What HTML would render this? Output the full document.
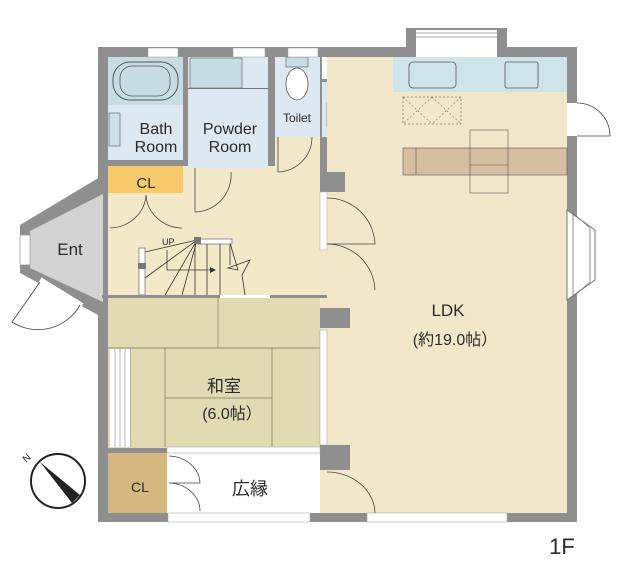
<!DOCTYPE html>
<html><head><meta charset="utf-8"><style>
html,body{margin:0;padding:0;background:#fff;}
svg{display:block;}
text{font-family:"Liberation Sans","Noto Sans CJK JP",sans-serif;fill:#2a2a2a;}
</style></head><body>
<svg width="627" height="570" viewBox="0 0 627 570" xmlns="http://www.w3.org/2000/svg">
<rect width="627" height="570" fill="#fff"/>
<rect x="98" y="47" width="479" height="475" fill="#8f8f8f"/>
<polygon points="100,177 20,225 20,273 100,316" fill="#8f8f8f"/>
<polygon points="103,194 30,231 30,268 103,302" fill="#d3d3d3"/>
<rect x="20" y="235" width="10" height="30" fill="#fff" stroke="#888" stroke-width="0.6"/>
<line x1="40" y1="280" x2="82" y2="306" stroke="#fff" stroke-width="6"/>
<path d="M40,282 L12,322 A48,48 0 0 0 80,305" fill="#fff" stroke="#444" stroke-width="0.8"/>
<rect x="108" y="166" width="212" height="132" fill="#f3e8c8"/>
<rect x="275" y="137" width="45" height="35" fill="#f3e8c8"/>
<rect x="183" y="168" width="92" height="10" fill="#f3e8c8"/>
<rect x="108" y="57" width="75" height="103" fill="#dde9f2"/>
<rect x="108" y="57" width="75" height="48" fill="#c8dde3"/>
<rect x="113" y="62" width="65" height="38" rx="17" fill="none" stroke="#555" stroke-width="1"/>
<rect x="120" y="66" width="50" height="30" rx="12" fill="none" stroke="#555" stroke-width="0.8"/>
<rect x="109" y="113" width="11" height="33" fill="#cfe0e8" stroke="#555" stroke-width="0.6"/>
<rect x="188" y="57" width="80" height="111" fill="#dde9f2"/>
<rect x="190" y="58" width="52" height="30" fill="#c8dde3" stroke="#555" stroke-width="0.6"/>
<rect x="188" y="88" width="80" height="1" fill="#777"/>
<rect x="275" y="57" width="45" height="80" fill="#dde9f2"/>
<rect x="286" y="57" width="22" height="10" fill="#c8dde3" stroke="#555" stroke-width="0.6"/>
<ellipse cx="297" cy="84" rx="11" ry="16" fill="#fff" stroke="#555" stroke-width="0.8"/>
<rect x="322" y="57" width="23" height="22" fill="#fff"/>
<rect x="322" y="82" width="23" height="58" fill="#dde9f2"/>
<rect x="327" y="103" width="14" height="24" fill="#c8dde3" stroke="#555" stroke-width="0.6"/>
<rect x="108" y="166" width="75" height="27" fill="#f6c96a"/>
<rect x="327" y="57" width="240" height="456" fill="#f2e8c9"/>
<rect x="320" y="190" width="7" height="323" fill="#f2e8c9"/>
<rect x="320" y="137" width="7" height="55" fill="#8f8f8f"/>
<rect x="320" y="172" width="25" height="20" fill="#8f8f8f"/>
<rect x="320" y="192" width="7" height="58" fill="#fff" stroke="#aaa" stroke-width="0.5"/>
<rect x="320" y="308" width="30" height="20" fill="#8f8f8f"/>
<rect x="320" y="445" width="30" height="25" fill="#8f8f8f"/>
<rect x="393" y="57" width="174" height="35" fill="#cfe3ea"/>
<rect x="409" y="62" width="47" height="26" rx="4" fill="none" stroke="#555" stroke-width="0.8"/>
<rect x="505" y="62" width="33" height="26" rx="2" fill="none" stroke="#555" stroke-width="0.8"/>
<rect x="403" y="97" width="58" height="27" fill="none" stroke="#777" stroke-width="0.8" stroke-dasharray="2,2"/>
<path d="M403,97 L432,124 M432,97 L403,124 M432,97 L461,124 M461,97 L432,124" stroke="#777" stroke-width="0.6" stroke-dasharray="2,2"/>
<rect x="403" y="148" width="164" height="27" fill="#d6bfa0" stroke="#555" stroke-width="0.6"/>
<line x1="416" y1="148" x2="416" y2="175" stroke="#555" stroke-width="0.6"/>
<rect x="470" y="130" width="38" height="63" fill="none" stroke="#555" stroke-width="0.6"/>
<line x1="470" y1="165" x2="508" y2="165" stroke="#555" stroke-width="0.6"/>
<rect x="406" y="28" width="101" height="20" fill="#8f8f8f"/>
<rect x="416" y="30" width="81" height="27" fill="#fff"/>
<line x1="416" y1="33" x2="497" y2="33" stroke="#555" stroke-width="0.6"/>
<line x1="416" y1="37" x2="497" y2="37" stroke="#555" stroke-width="0.6"/>
<rect x="567" y="103" width="10" height="33" fill="#fff"/>
<path d="M577,103 A33,33 0 0 1 610,136 L577,136" fill="#fff" stroke="#444" stroke-width="0.8"/>
<polygon points="567,210 595,230 595,280 567,300" fill="#fff" stroke="#777" stroke-width="1"/>
<polygon points="573,213 590,228 590,282 573,297" fill="none" stroke="#777" stroke-width="0.8"/>
<path d="M327,198 A48,48 0 0 1 375,244 L327,244 M327,244 A48,48 0 0 1 375,290" fill="none" stroke="#444" stroke-width="0.8"/>
<path d="M327,472 A48,42 0 0 1 375,513" fill="none" stroke="#444" stroke-width="0.8"/>
<path d="M195,168 L195,212 A37,37 0 0 0 231,172" fill="none" stroke="#444" stroke-width="0.8"/>
<path d="M278,137 L278,172 A35,35 0 0 0 312,137" fill="none" stroke="#444" stroke-width="0.8"/>
<path d="M110,228 A37,35 0 0 0 146,195 A37,35 0 0 0 182,228 L182,228" fill="none" stroke="#444" stroke-width="0.8"/>
<g stroke="#333" stroke-width="0.8" fill="none">
<line x1="197" y1="240" x2="145" y2="252"/><line x1="197" y1="240" x2="145" y2="278"/>
<line x1="197" y1="240" x2="165" y2="295"/><line x1="197" y1="240" x2="182" y2="295"/>
<line x1="195" y1="240" x2="195" y2="295"/><line x1="207" y1="243" x2="207" y2="295"/>
<line x1="220" y1="243" x2="220" y2="295"/><line x1="230" y1="243" x2="230" y2="265"/>
<path d="M230,243 L238,270 L228,268 L250,260 L242,275 L245,295"/>
<path d="M167,250 L167,270 L210,270"/>
</g>
<polygon points="210,267 216,270 210,273" fill="#333"/>
<rect x="198" y="239" width="34" height="5" fill="#fff" stroke="#555" stroke-width="0.6"/>
<rect x="194" y="237" width="7" height="7" fill="#777"/>
<rect x="139" y="248" width="6" height="47" fill="#fff" stroke="#555" stroke-width="0.6"/>
<rect x="138" y="263" width="8" height="6" fill="#777"/>
<text x="162" y="245" font-size="9">UP</text>
<rect x="102" y="295" width="225" height="3" fill="#8f8f8f"/>
<rect x="220" y="295" width="50" height="3" fill="#fff"/>
<rect x="108" y="298" width="212" height="150" fill="#e0dbb3"/>
<g stroke="#7d7760" stroke-width="0.7" fill="none">
<line x1="218" y1="298" x2="218" y2="348"/>
<line x1="108" y1="348" x2="320" y2="348"/>
<line x1="130" y1="348" x2="130" y2="447"/>
<line x1="165" y1="348" x2="165" y2="447"/>
<line x1="272" y1="348" x2="272" y2="447"/>
<line x1="165" y1="398" x2="272" y2="398"/>
</g>
<rect x="110" y="349" width="20" height="98" fill="#fff"/>
<g stroke="#999" stroke-width="0.7"><line x1="115" y1="349" x2="115" y2="447"/><line x1="120" y1="349" x2="120" y2="447"/><line x1="125" y1="349" x2="125" y2="447"/></g>
<rect x="320" y="330" width="7" height="115" fill="#fff" stroke="#999" stroke-width="0.5"/>
<rect x="108" y="453" width="59" height="60" fill="#d4b880"/>
<rect x="167" y="453" width="153" height="60" fill="#fff"/>
<rect x="167" y="447" width="153" height="6" fill="#fff" stroke="#999" stroke-width="0.5"/>
<path d="M169,456 A32,28 0 0 1 200,483 L169,483 A32,28 0 0 1 200,511" fill="none" stroke="#444" stroke-width="0.8"/>
<rect x="168" y="513" width="142" height="9" fill="#fff" stroke="#999" stroke-width="0.5"/>
<rect x="367" y="513" width="140" height="9" fill="#fff" stroke="#999" stroke-width="0.5"/>
<rect x="148" y="48" width="30" height="9" fill="#fff" stroke="#999" stroke-width="0.5"/>
<rect x="233" y="48" width="32" height="9" fill="#fff" stroke="#999" stroke-width="0.5"/>
<rect x="288" y="48" width="30" height="9" fill="#fff" stroke="#999" stroke-width="0.5"/>
<circle cx="58" cy="481" r="27" fill="#fff" stroke="#222" stroke-width="2"/>
<polygon points="40,462 80,495 72,503" fill="#222"/>
<text x="22" y="460" font-size="10" transform="rotate(-40 28 456)">N</text>
<text x="156" y="134" font-size="16" text-anchor="middle">Bath</text>
<text x="156" y="152" font-size="16" text-anchor="middle">Room</text>
<text x="230" y="134" font-size="16" text-anchor="middle">Powder</text>
<text x="230" y="152" font-size="16" text-anchor="middle">Room</text>
<text x="297" y="122" font-size="12" text-anchor="middle">Toilet</text>
<text x="146" y="188" font-size="15" text-anchor="middle">CL</text>
<text x="70" y="255" font-size="17" text-anchor="middle">Ent</text>
<text x="448" y="316" font-size="17" text-anchor="middle">LDK</text>
<text x="455" y="345" font-size="16" text-anchor="middle">(約19.0帖）</text>
<text x="224" y="392" font-size="17" text-anchor="middle">和室</text>
<text x="232" y="419" font-size="16" text-anchor="middle">(6.0帖）</text>
<text x="250" y="495" font-size="18" text-anchor="middle">広縁</text>
<text x="140" y="492" font-size="14" text-anchor="middle">CL</text>
<text x="562" y="554" font-size="22" text-anchor="middle">1F</text>
</svg>
</body></html>
